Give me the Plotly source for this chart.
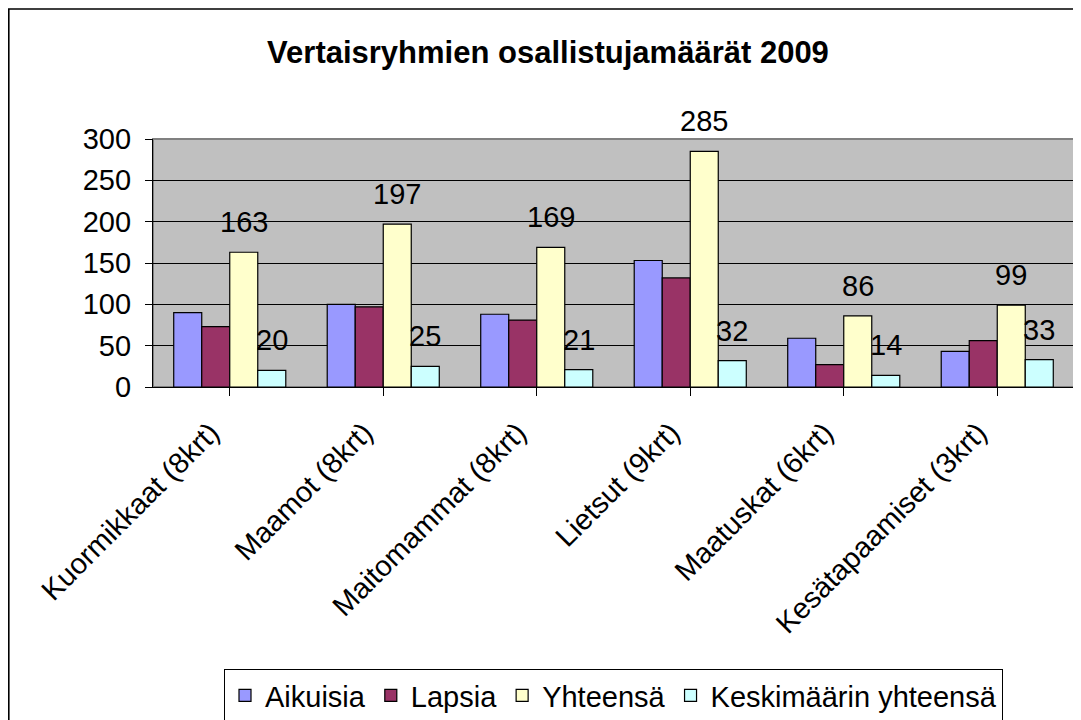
import plotly.graph_objects as go

categories = ["Kuormikkaat (8krt)", "Maamot (8krt)", "Maitomammat (8krt)",
              "Lietsut (9krt)", "Maatuskat (6krt)", "Kesätapaamiset (3krt)"]
aikuisia = [90, 100, 88, 153, 59, 43]
lapsia = [73, 97, 81, 132, 27, 56]
yhteensa = [163, 197, 169, 285, 86, 99]
keskimaarin = [20, 25, 21, 32, 14, 33]
y_ticks = [0, 50, 100, 150, 200, 250, 300]

series = [
    ("Aikuisia", aikuisia, "#9999FF", False),
    ("Lapsia", lapsia, "#993366", False),
    ("Yhteensä", yhteensa, "#FFFFCC", True),
    ("Keskimäärin yhteensä", keskimaarin, "#CCFFFF", True),
]

# page body has an 8px margin; figure coords = window coords - 8
OFF = 8
W, H = 1081 - OFF, 720 - OFF
ML = 153 - OFF
MR = W - (1074 - OFF)
MT = 139 - OFF
MB = H - (387 - OFF)
pw = W - ML - MR
ph = H - MT - MB
FONT = "Liberation Sans, Arial, sans-serif"
FS = 29
bargap = 0.27

fig = go.Figure()
xs = list(range(len(categories)))
for name, vals, col, _ in series:
    fig.add_trace(go.Bar(
        name=name, x=xs, y=vals,
        marker=dict(color=col, line=dict(color="black", width=1.2)),
    ))

n = len(series)
w = (1 - bargap) / n
for k, (name, vals, col, lab) in enumerate(series):
    if not lab:
        continue
    for i, v in enumerate(vals):
        fig.add_annotation(
            x=i - (1 - bargap) / 2 + w * (k + 0.5), y=v, xref="x", yref="y",
            text=str(v), showarrow=False, yanchor="bottom", yshift=12,
            font=dict(family=FONT, size=FS, color="black"),
        )

def px_x(fx):
    return (fx - ML) / pw

def px_y(fy):
    return (H - MB - fy) / ph

# outer chart border (left/top visible; right/bottom fall outside the window)
fig.add_shape(type="rect", xref="paper", yref="paper",
              x0=px_x(0.8), x1=px_x(W + 20),
              y0=px_y(H + 20), y1=px_y(9 - OFF),
              line=dict(color="black", width=1.6), fillcolor="rgba(0,0,0,0)",
              layer="below")

fig.update_layout(
    width=W, height=H,
    margin=dict(l=ML, r=MR, t=MT, b=MB, autoexpand=False),
    paper_bgcolor="white", plot_bgcolor="#C0C0C0",
    barmode="group", bargap=bargap, bargroupgap=0,
    title=dict(text="<b>Vertaisryhmien osallistujamäärät 2009</b>",
               x=(548 - OFF) / W, xanchor="center",
               y=1 - (52 - OFF) / H, yanchor="middle",
               font=dict(family=FONT, size=31, color="black")),
    font=dict(family=FONT, size=FS, color="black"),
    showlegend=True,
    legend=dict(orientation="h", x=0.5, xanchor="center",
                y=px_y(669 - OFF), yanchor="top",
                bordercolor="black", borderwidth=1, bgcolor="white",
                font=dict(family=FONT, size=FS, color="black"),
                traceorder="normal", itemwidth=30),
    xaxis=dict(
        tickmode="array", tickvals=xs, ticktext=categories,
        range=[-0.5, len(categories) - 0.5],
        tickangle=-45, ticks="outside", tickson="boundaries",
        ticklen=8, tickcolor="black", showline=True, linecolor="black",
        linewidth=1.2, showgrid=False, automargin=False,
        ticklabelshift=-19, ticklabelstandoff=8,
        tickfont=dict(family=FONT, size=FS, color="black"),
    ),
    yaxis=dict(
        range=[0, 300], tickmode="array", tickvals=y_ticks,
        ticks="outside", ticklen=7, tickcolor="black",
        showline=True, linecolor="black", linewidth=1.2,
        gridcolor="black", gridwidth=1.2, zeroline=False,
        ticklabelstandoff=8, automargin=False,
        tickfont=dict(family=FONT, size=FS, color="black"),
    ),
)
# gray plot-area border (top/right)
fig.add_shape(type="rect", xref="paper", yref="paper", x0=0, x1=1, y0=0, y1=1,
              line=dict(color="#808080", width=2), fillcolor="rgba(0,0,0,0)",
              layer="below")

fig.write_html("out.html")
